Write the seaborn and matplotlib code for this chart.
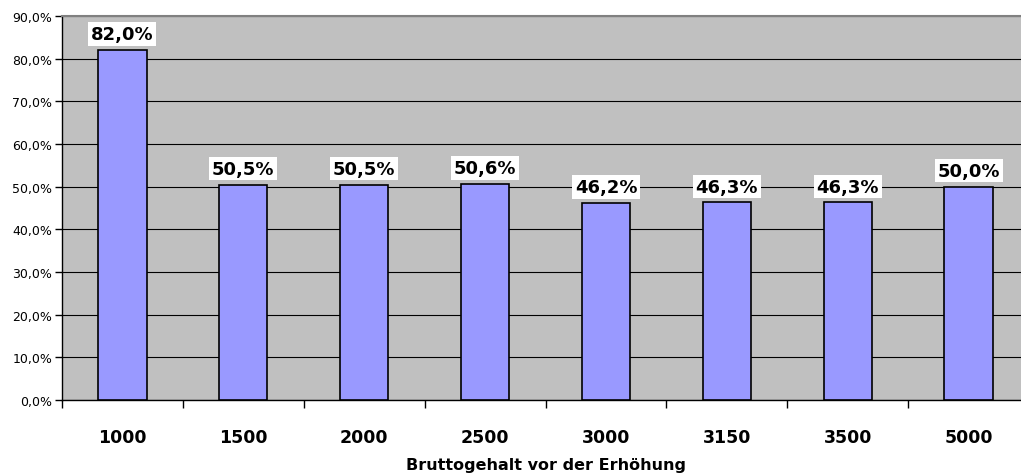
import pandas as pd
import seaborn as sns
import matplotlib.pyplot as plt
from matplotlib.ticker import FuncFormatter, MultipleLocator

# data
gehalt = ["1000", "1500", "2000", "2500", "3000", "3150", "3500", "5000"]
anteil = [82.0, 50.5, 50.5, 50.6, 46.2, 46.3, 46.3, 50.0]

df = pd.DataFrame({"Gehalt": gehalt, "Anteil": anteil})

sns.set_style("white")
plt.rcParams['font.family'] = ['DejaVu Sans']
plt.rcParams['text.color'] = 'black'
plt.rcParams['xtick.color'] = 'black'
plt.rcParams['ytick.color'] = 'black'
plt.rcParams['axes.labelcolor'] = 'black'

fig = plt.figure(figsize=(10.21, 4.77), dpi=100)
ax = fig.add_axes([62 / 1021, 1 - 401 / 477, (1029 - 62) / 1021, (401 - 17) / 477])
ax.set_facecolor("#C0C0C0")

sns.barplot(data=df, x="Gehalt", y="Anteil", color="#9999FF", saturation=1,
            width=0.4, edgecolor="black", linewidth=1.2, ax=ax, zorder=3)

ax.set_ylim(0, 90)
ax.set_xlim(-0.5, len(gehalt) - 0.5)
ax.yaxis.set_major_locator(MultipleLocator(10))
ax.yaxis.set_major_formatter(FuncFormatter(lambda v, p: f"{v:.1f}%".replace(".", ",")))
ax.grid(axis="y", color="black", linewidth=0.8, zorder=0)
ax.set_axisbelow(True)

# ticks between categories
ax.set_xticks([i + 0.5 for i in range(-1, len(gehalt))], minor=True)
ax.tick_params(axis="x", which="major", bottom=True, length=0, pad=20, labelsize=12.5)
ax.tick_params(axis="x", which="minor", bottom=True, length=6, width=1, color="black", direction="out")
ax.tick_params(axis="y", left=True, length=5, width=1, color="black", direction="out", labelsize=9, pad=2)
for lbl in ax.get_xticklabels():
    lbl.set_fontweight("bold")

for s in ["left", "bottom"]:
    ax.spines[s].set_color("black")
    ax.spines[s].set_linewidth(1)
ax.spines["top"].set_color("#808080")
ax.spines["top"].set_linewidth(1.5)
ax.spines["right"].set_visible(False)

for i, v in enumerate(anteil):
    ax.annotate(f"{v:.1f}%".replace(".", ","), (i, v), xytext=(0, 5), textcoords="offset points",
                ha="center", va="bottom", fontsize=13, fontweight="bold",
                bbox=dict(boxstyle="square,pad=0.15", fc="white", ec="none"), zorder=5)

ax.set_ylabel("")
ax.set_xlabel("Bruttogehalt vor der Erhöhung", fontsize=11.5, fontweight="bold", labelpad=8)

fig.savefig("out.png", dpi=100)
